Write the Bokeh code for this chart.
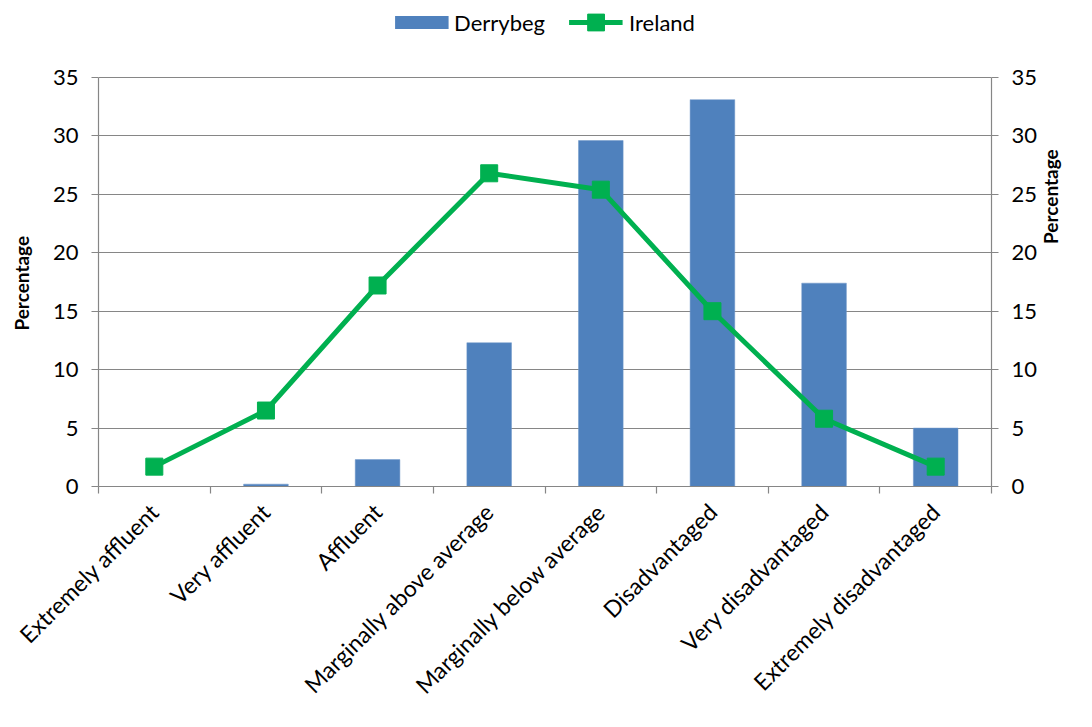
from bokeh.plotting import figure
from bokeh.models import (Range1d, LinearAxis, FixedTicker, Legend, LegendItem, ColumnDataSource)
from bokeh.embed import file_html
from bokeh.resources import INLINE
import math

categories = ["Extremely affluent", "Very affluent", "Affluent", "Marginally above average",
              "Marginally below average", "Disadvantaged", "Very disadvantaged",
              "Extremely disadvantaged"]
derrybeg = [0.0, 0.2, 2.3, 12.3, 29.6, 33.1, 17.4, 5.0]
ireland = [1.7, 6.5, 17.2, 26.8, 25.4, 15.0, 5.8, 1.7]
y_ticks = [0, 5, 10, 15, 20, 25, 30, 35]
Y_MAX = 35
Y_TOP = 41.5  # headroom above the axis for the legend
Y_TITLE = "Percentage"

FONT = "Lato"
AXIS_GRAY = "#868686"
BAR_COLOR = "#4F81BD"
LINE_COLOR = "#00B050"

xs = [i + 0.5 for i in range(len(categories))]
src = ColumnDataSource(dict(x=xs, derrybeg=derrybeg, ireland=ireland))

p = figure(width=1076, height=711, output_backend="svg", toolbar_location=None,
           x_range=Range1d(0, len(categories)), y_range=Range1d(0, Y_TOP),
           min_border_left=98, min_border_right=77, min_border_top=1, min_border_bottom=222,
           x_axis_location=None, y_axis_location=None)
p.outline_line_color = None
p.xgrid.visible = False
p.ygrid.ticker = FixedTicker(ticks=y_ticks)
p.ygrid.grid_line_color = AXIS_GRAY
p.ygrid.grid_line_width = 1.2

bars = p.vbar(x="x", top="derrybeg", width=0.4, source=src, fill_color=BAR_COLOR,
              line_color="#6F96C8", line_width=0.5)
ln = p.line(x="x", y="ireland", source=src, line_color=LINE_COLOR, line_width=5)
sc = p.scatter(x="x", y="ireland", source=src, marker="square", size=17,
               fill_color=LINE_COLOR, line_color=LINE_COLOR)
# legend swatch for the bars (flat thick bar like the reference); kept below the visible range
bar_key = p.line(x=xs[:2], y=[-5, -5], line_color=BAR_COLOR, line_width=13)

# x axis
xaxis = LinearAxis(ticker=FixedTicker(ticks=xs, minor_ticks=list(range(len(categories) + 1))),
                   major_label_overrides={x: c for x, c in zip(xs, categories)})
xaxis.major_label_orientation = math.pi / 4
xaxis.major_tick_line_color = None
xaxis.major_tick_out = 7
xaxis.minor_tick_line_color = AXIS_GRAY
xaxis.minor_tick_line_width = 1.2
xaxis.minor_tick_out = 7
xaxis.minor_tick_in = 0
xaxis.axis_line_color = AXIS_GRAY
xaxis.axis_line_width = 1.2
xaxis.major_label_text_font = FONT
xaxis.major_label_text_font_size = "23px"
xaxis.major_label_text_color = "black"
xaxis.major_label_standoff = 14
p.add_layout(xaxis, "below")

# trailing no-break spaces centre the title on the 0-35 span instead of the taller frame
title_text = Y_TITLE + "\u00a0" * 17

def yaxis_style(ax, title_standoff):
    ax.ticker = FixedTicker(ticks=y_ticks)
    ax.bounds = (0, Y_MAX)
    ax.minor_tick_line_color = None
    ax.major_tick_line_color = AXIS_GRAY
    ax.major_tick_line_width = 1.2
    ax.major_tick_out = 7
    ax.major_tick_in = 0
    ax.axis_line_color = AXIS_GRAY
    ax.axis_line_width = 1.2
    ax.major_label_text_font = FONT
    ax.major_label_text_font_size = "22px"
    ax.major_label_text_color = "black"
    ax.major_label_standoff = 13
    ax.axis_label = title_text
    ax.axis_label_text_font = FONT
    ax.axis_label_text_font_size = "19px"
    ax.axis_label_text_font_style = "bold"
    ax.axis_label_text_color = "black"
    ax.axis_label_standoff = title_standoff

yl = LinearAxis()
yaxis_style(yl, 17)
p.add_layout(yl, "left")
yr = LinearAxis()
yaxis_style(yr, 10)
if hasattr(yr, "axis_label_orientation"):
    yr.axis_label_orientation = math.pi / 2
p.add_layout(yr, "right")

legend = Legend(items=[LegendItem(label="Derrybeg", renderers=[bar_key]),
                       LegendItem(label="Ireland", renderers=[ln, sc])],
                orientation="horizontal", location="top_center",
                border_line_color=None, background_fill_alpha=0,
                padding=0, margin=0, spacing=24,
                glyph_width=54, glyph_height=42, label_standoff=6,
                label_text_font=FONT, label_text_font_size="22px",
                label_text_color="black", label_height=24)
p.add_layout(legend, "center")

open("out.html", "w").write(file_html(p, INLINE))
